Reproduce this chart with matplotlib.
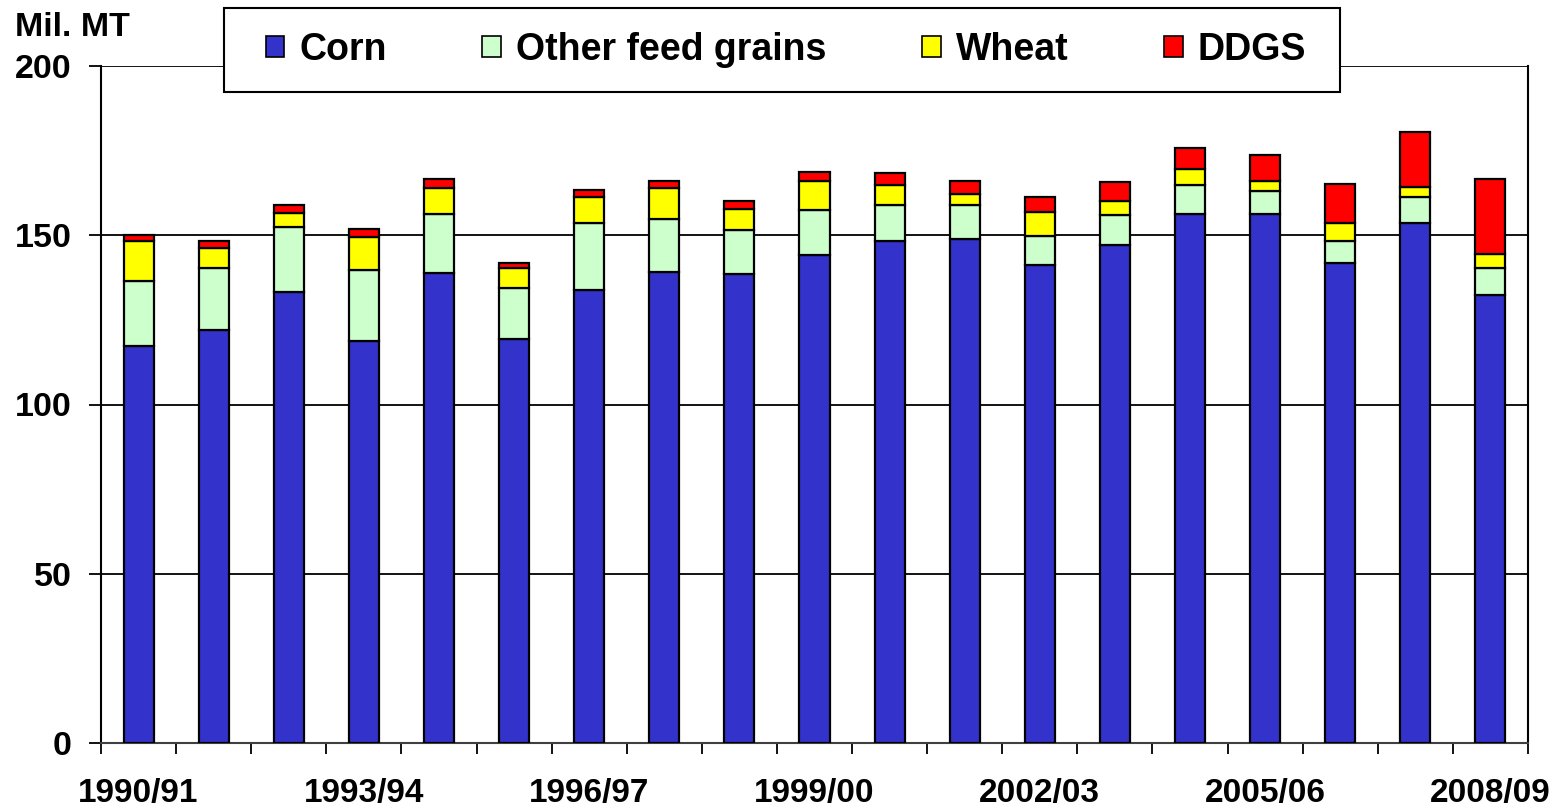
import numpy as np
import matplotlib
matplotlib.use("Agg")
import matplotlib.pyplot as plt
from matplotlib.patches import Patch, Rectangle

years = ["1990/91", "1991/92", "1992/93", "1993/94", "1994/95", "1995/96", "1996/97",
         "1997/98", "1998/99", "1999/00", "2000/01", "2001/02", "2002/03", "2003/04",
         "2004/05", "2005/06", "2006/07", "2007/08", "2008/09"]

corn = [117.3, 122.1, 133.3, 118.8, 138.8, 119.4, 133.7, 139.0, 138.7, 144.1,
        148.3, 148.9, 141.3, 147.2, 156.4, 156.4, 141.9, 153.6, 132.3]
other = [19.2, 18.2, 19.2, 20.9, 17.6, 15.0, 19.8, 15.8, 12.9, 13.4,
         10.7, 10.1, 8.6, 8.7, 8.5, 6.8, 6.4, 7.6, 8.0]
wheat = [11.8, 5.8, 4.0, 9.8, 7.5, 5.8, 7.8, 9.2, 6.3, 8.5,
         5.9, 3.3, 7.0, 4.3, 4.8, 2.8, 5.3, 3.2, 4.2]
ddgs = [1.8, 2.3, 2.3, 2.2, 2.8, 1.7, 2.1, 2.1, 2.3, 2.7,
        3.4, 3.8, 4.4, 5.4, 6.2, 7.8, 11.6, 16.2, 22.2]

series = ["Corn", "Other feed grains", "Wheat", "DDGS"]
colors = ["#3333CC", "#CCFFCC", "#FFFF00", "#FF0000"]

plt.rcParams['font.family'] = ['Liberation Sans', 'DejaVu Sans']
plt.rcParams['font.weight'] = 'bold'

fig = plt.figure(figsize=(15.64, 8.11), dpi=100)
ax = fig.add_axes([101 / 1564, 68 / 811, 1427 / 1564, 677 / 811])

x = np.arange(len(years))
bottom = np.zeros(len(years))
for vals, c in zip([corn, other, wheat, ddgs], colors):
    ax.bar(x, vals, width=0.4, bottom=bottom, color=c, edgecolor="black",
           linewidth=1.6, zorder=3)
    bottom += np.array(vals)

ax.set_xlim(-0.5, len(years) - 0.5)
ax.set_ylim(0, 200)
ax.set_yticks([0, 50, 100, 150, 200])
ax.yaxis.grid(True, color="black", linewidth=1.3)
ax.set_axisbelow(True)

ax.set_xticks(x[::3])
ax.set_xticklabels(years[::3])
ax.set_xticks(np.arange(-0.5, len(years)), minor=True)
ax.tick_params(axis="x", which="major", length=0, pad=25, labelsize=24)
ax.tick_params(axis="x", which="minor", length=8, width=1.3, direction="out")
ax.tick_params(axis="y", length=9, width=1.3, pad=12, labelsize=24.5)

ax.spines["top"].set_visible(False)
ax.spines["left"].set_linewidth(1.5)
ax.spines["right"].set_linewidth(1.5)
ax.spines["bottom"].set_linewidth(1.5)
ax.spines["bottom"].set_color("#404040")

fig.text(15 / 1564, 1 - 28 / 811, "Mil. MT", fontsize=24.5, fontweight="bold", va="center")

# legend box drawn separately so the padding matches the original
box = Rectangle((224 / 1564, 1 - 92 / 811), 1116 / 1564, 84 / 811,
                transform=fig.transFigure, facecolor="white", edgecolor="black",
                linewidth=1.5, zorder=4)
fig.add_artist(box)

handles = [Patch(facecolor=c, edgecolor="black", linewidth=1.2) for c in colors]
leg = fig.legend(handles, series, loc="center", bbox_to_anchor=(786 / 1564, 1 - 50 / 811),
                 ncol=4, fontsize=27, frameon=False,
                 handlelength=0.5, handleheight=0.5, handletextpad=0.4,
                 columnspacing=2.55, borderpad=0, borderaxespad=0)
leg.set_zorder(5)

fig.savefig("out.png", dpi=100)
